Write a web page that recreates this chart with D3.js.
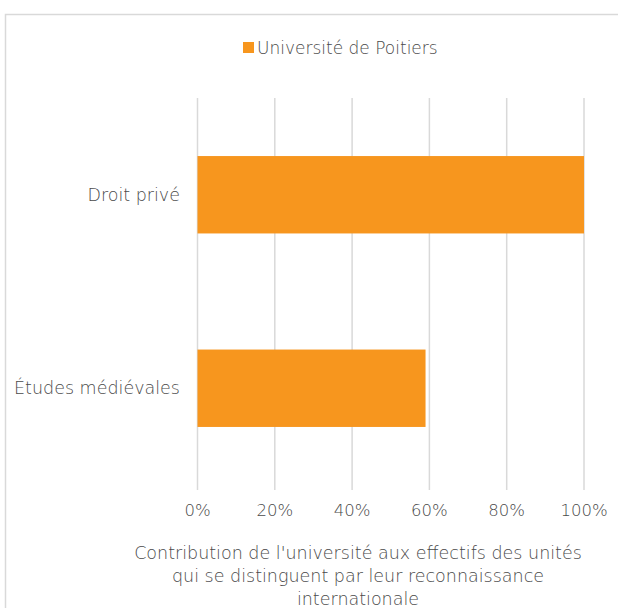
<!DOCTYPE html>
<html>
<head>
<meta charset="utf-8">
<script src="https://cdn.jsdelivr.net/npm/d3@7"></script>
<style>
  body { margin: 0; background: #fff; }
  svg text { font-family: "DejaVu Sans", sans-serif; font-weight: 200; fill: #4a4a4a; }
</style>
</head>
<body>
<div id="chart"></div>
<script>
// data
const categories = ["Droit privé", "Études médiévales"];
const values = [1.0, 0.59];
const seriesName = "Université de Poitiers";
const ticks = [0, 0.2, 0.4, 0.6, 0.8, 1.0];
const titleLines = [
    "Contribution de l'université aux effectifs des unités",
    "qui se distinguent par leur reconnaissance",
    "internationale"
];

const width = 618, height = 608;
const svg = d3.select("#chart").append("svg")
    .attr("width", width)
    .attr("height", height);

// chart frame (goes past the right and bottom edges)
svg.append("rect")
    .attr("x", 5.5).attr("y", 14.5)
    .attr("width", 640).attr("height", 640)
    .attr("fill", "#fff")
    .attr("stroke", "#d9d9d9")
    .attr("stroke-width", 1.5);

const x = d3.scaleLinear().domain([0, 1]).range([197.5, 584]);
const y = d3.scaleBand().domain(categories).range([98, 485]).paddingInner(0.6).paddingOuter(0.3);

// gridlines
svg.append("g")
    .selectAll("line")
    .data(ticks)
    .enter()
    .append("line")
    .attr("x1", d => x(d)).attr("x2", d => x(d))
    .attr("y1", 98).attr("y2", 490)
    .attr("stroke", "#d9d9d9")
    .attr("stroke-width", 1.5);

// bars
svg.selectAll(".bar")
    .data(categories)
    .enter()
    .append("rect")
    .attr("class", "bar")
    .attr("x", x(0))
    .attr("y", d => y(d))
    .attr("width", (d, i) => x(values[i]) - x(0))
    .attr("height", y.bandwidth())
    .attr("fill", "#f7961e");

// x tick labels
svg.append("g")
    .selectAll("text")
    .data(ticks)
    .enter()
    .append("text")
    .attr("x", d => x(d))
    .attr("y", 516)
    .attr("text-anchor", "middle")
    .attr("font-size", "16.5px")
    .text(d3.format(".0%"));

// category labels
svg.append("g")
    .selectAll("text")
    .data(categories)
    .enter()
    .append("text")
    .attr("x", 180)
    .attr("y", d => y(d) + y.bandwidth() / 2)
    .attr("dy", "0.35em")
    .attr("text-anchor", "end")
    .attr("font-size", "17.5px")
    .text(d => d);

// legend
svg.append("rect")
    .attr("x", 243).attr("y", 42)
    .attr("width", 11).attr("height", 11)
    .attr("fill", "#f7961e");
svg.append("text")
    .attr("x", 257).attr("y", 54)
    .attr("font-size", "17px")
    .text(seriesName);

// axis title
svg.append("g")
    .selectAll("text")
    .data(titleLines)
    .enter()
    .append("text")
    .attr("x", 358)
    .attr("y", (d, i) => 559 + i * 23)
    .attr("text-anchor", "middle")
    .attr("font-size", "17.5px")
    .text(d => d);
</script>
</body>
</html>
